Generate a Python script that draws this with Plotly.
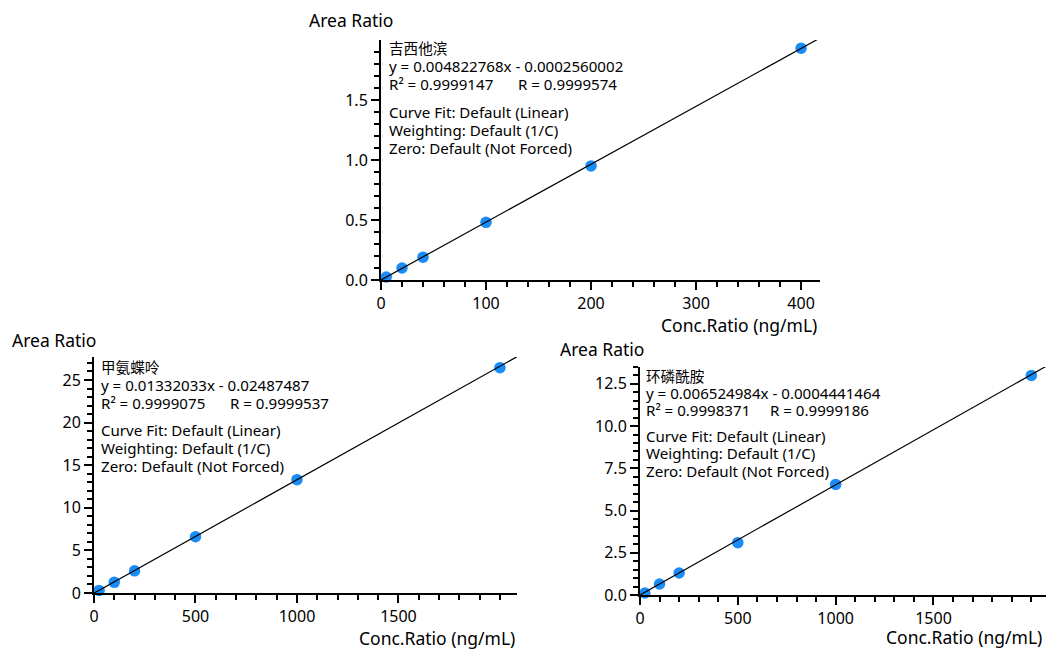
import plotly.graph_objects as go

W, H = 1046, 649

# ---------------- data ----------------
names = ["吉西他滨", "甲氨蝶呤", "环磷酰胺"]
equations = ["y = 0.004822768x - 0.0002560002",
             "y = 0.01332033x - 0.02487487",
             "y = 0.006524984x - 0.0004441464"]
r2_texts = ["R² = 0.9999147", "R² = 0.9999075", "R² = 0.9998371"]
r_texts = ["R = 0.9999574", "R = 0.9999537", "R = 0.9999186"]
slopes = [0.004822768, 0.01332033, 0.006524984]
intercepts = [-0.0002560002, -0.02487487, -0.0004441464]
info_lines = ["Curve Fit: Default (Linear)", "Weighting: Default (1/C)", "Zero: Default (Not Forced)"]

gem_x = [5, 20, 40, 100, 200, 400]
gem_y = [0.025, 0.1, 0.19, 0.48, 0.95, 1.93]
mtx_x = [25, 100, 200, 500, 1000, 2000]
mtx_y = [0.3, 1.25, 2.6, 6.6, 13.3, 26.45]
cyc_x = [25, 100, 200, 500, 1000, 2000]
cyc_y = [0.12, 0.65, 1.3, 3.1, 6.55, 13.0]

x_max = [418, 2084, 2075]
y_max = [1.999, 27.7, 13.5]
x_major = [[0, 100, 200, 300, 400], [0, 500, 1000, 1500], [0, 500, 1000, 1500]]
x_minor = [20, 100, 100]
y_major = [0.5, 5, 2.5]
y_minor = [0.1, 1, 0.5]
y_fmt = [".1f", "d", ".1f"]

x_title = "Conc.Ratio (ng/mL)"
y_title = "Area Ratio"

# ---------------- layout geometry (pixels) ----------------
boxes = [(381, 820, 40, 280), (94, 517, 357, 593), (640, 1046, 367, 595)]
ytitle_pos = [(307, 20), (10, 340), (558, 349)]
xtitle_pos = [(819, 325), (517, 638), (1044, 637)]
text_pos = [(387, [48, 66.5, 84.5, 111.5, 130, 148], 516),
            (99, [366.5, 385, 403, 430, 448, 466], 228),
            (644, [375.5, 392.5, 409.5, 435.5, 453, 471], 768)]

FONT = "Noto Sans, Open Sans, Noto Sans CJK SC, sans-serif"
CJK = "Noto Sans CJK SC, Noto Sans, sans-serif"
BLUE = "#1a8cf5"

fig = go.Figure()
series = [(gem_x, gem_y), (mtx_x, mtx_y), (cyc_x, cyc_y)]
annotations = []

def px(x):
    return x / W

def py(y):
    return 1 - y / H

for i in range(3):
    sfx = "" if i == 0 else str(i + 1)
    xa, ya = "x" + sfx, "y" + sfx
    xs, ys = series[i]
    fig.add_trace(go.Scatter(x=xs, y=ys, mode="markers", xaxis=xa, yaxis=ya,
                             marker=dict(color=BLUE, size=11.5, line=dict(width=0)),
                             showlegend=False, cliponaxis=False))
    lx = [0, x_max[i]]
    ly = [slopes[i] * v + intercepts[i] for v in lx]
    fig.add_trace(go.Scatter(x=lx, y=ly, mode="lines", xaxis=xa, yaxis=ya,
                             line=dict(color="black", width=1.2), showlegend=False,
                             cliponaxis=False))
    x0, x1, y0, y1 = boxes[i]
    axcommon = dict(showline=True, linecolor="black", linewidth=2, ticks="outside",
                    ticklen=8, tickwidth=2, tickcolor="black", showgrid=False,
                    zeroline=False, tickfont=dict(family=FONT, size=16, color="black"),
                    automargin=False, fixedrange=True)
    fig.layout["xaxis" + sfx] = dict(
        domain=[px(x0), px(x1)], range=[0, x_max[i]], anchor=ya,
        tickmode="array", tickvals=x_major[i],
        minor=dict(dtick=x_minor[i], tick0=0, ticks="outside", ticklen=5,
                   tickwidth=2, tickcolor="black", showgrid=False),
        **axcommon)
    fig.layout["yaxis" + sfx] = dict(
        domain=[py(y1), py(y0)], range=[0, y_max[i]], anchor=xa,
        dtick=y_major[i], tick0=0, tickformat=y_fmt[i],
        minor=dict(dtick=y_minor[i], tick0=0, ticks="outside", ticklen=5,
                   tickwidth=2, tickcolor="black", showgrid=False),
        **axcommon)

    # axis titles
    tx, ty = ytitle_pos[i]
    annotations.append(dict(text=y_title, x=px(tx), y=py(ty), xref="paper", yref="paper",
                            xanchor="left", yanchor="middle", showarrow=False,
                            font=dict(family=FONT, size=17.5, color="black")))
    tx, ty = xtitle_pos[i]
    annotations.append(dict(text=x_title, x=px(tx), y=py(ty), xref="paper", yref="paper",
                            xanchor="right", yanchor="middle", showarrow=False,
                            font=dict(family=FONT, size=17.5, color="black")))

    # info block
    bx, rows, rx = text_pos[i]
    lines = [names[i], equations[i], r2_texts[i]] + info_lines
    for j, t in enumerate(lines):
        annotations.append(dict(text=t, x=px(bx), y=py(rows[j]), xref="paper", yref="paper",
                                xanchor="left", yanchor="middle", showarrow=False,
                                font=dict(family=CJK if j == 0 else FONT,
                                          size=14.6 if j == 0 else 15.1, color="black")))
    annotations.append(dict(text=r_texts[i], x=px(rx), y=py(rows[2]), xref="paper", yref="paper",
                            xanchor="left", yanchor="middle", showarrow=False,
                            font=dict(family=FONT, size=15.1, color="black")))

fig.update_layout(width=W, height=H, margin=dict(l=0, r=0, t=0, b=0),
                  paper_bgcolor="white", plot_bgcolor="white",
                  annotations=annotations, font=dict(family=FONT, color="black"))

fig.write_html("out.html", config={"displayModeBar": False},
               post_script=["document.body.style.margin='0px';"
                            "document.body.style.overflow='hidden';"])
